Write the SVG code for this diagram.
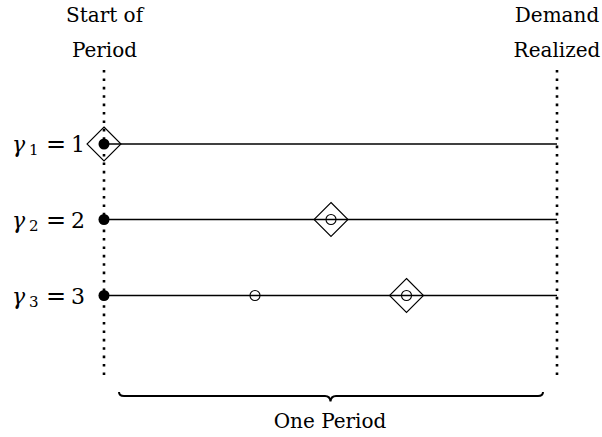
<svg xmlns="http://www.w3.org/2000/svg" width="602" height="437" viewBox="0 0 602 437">
<style>
.lbl{font-family:"DejaVu Serif",serif;font-size:20px;fill:#000;text-anchor:middle}
.math{font-family:"DejaVu Serif",serif;font-size:22px;fill:#000}
.sub{font-size:15px}
.eq{font-size:24px}
.dots{stroke:#000;stroke-width:2.6;stroke-dasharray:2.6 5.8;fill:none}
.tl{stroke:#000;stroke-width:1.6;fill:none}
.dia{stroke:#000;stroke-width:1.1;fill:none}
.oc{stroke:#000;stroke-width:1.1;fill:none}
.fd{fill:#000}
</style>
<rect width="602" height="437" fill="#fff"/>
<g id="labels">
<text class="lbl" x="104.5" y="21.5">Start of</text>
<text class="lbl" x="104.5" y="57">Period</text>
<text class="lbl" x="557" y="21.5">Demand</text>
<text class="lbl" x="557" y="57">Realized</text>
</g>
<g id="connectors">
<line class="dots" x1="104" y1="70" x2="104" y2="375"/>
<line class="dots" x1="557" y1="70" x2="557" y2="375"/>
<line class="tl" x1="104" y1="144" x2="557" y2="144"/>
<line class="tl" x1="104" y1="219.5" x2="557" y2="219.5"/>
<line class="tl" x1="104" y1="295.5" x2="557" y2="295.5"/>
</g>
<g id="row1">
<text class="math" y="152"><tspan x="12" font-style="italic">γ</tspan><tspan class="sub" x="29" dy="3">1</tspan><tspan class="eq" x="46" dy="-3">=</tspan><tspan x="71">1</tspan></text>
<circle class="fd" cx="104" cy="144" r="5.5"/>
<path class="dia" d="M104 127 L121 144 L104 161 L87 144 Z"/>
</g>
<g id="row2">
<text class="math" y="227.5"><tspan x="12" font-style="italic">γ</tspan><tspan class="sub" x="29" dy="3">2</tspan><tspan class="eq" x="46" dy="-3">=</tspan><tspan x="71">2</tspan></text>
<circle class="fd" cx="104" cy="219.5" r="5.5"/>
<circle class="oc" cx="331" cy="219.5" r="5"/>
<path class="dia" d="M331 202.5 L348 219.5 L331 236.5 L314 219.5 Z"/>
</g>
<g id="row3">
<text class="math" y="303.5"><tspan x="12" font-style="italic">γ</tspan><tspan class="sub" x="29" dy="3">3</tspan><tspan class="eq" x="46" dy="-3">=</tspan><tspan x="71">3</tspan></text>
<circle class="fd" cx="104" cy="295.5" r="5.5"/>
<circle class="oc" cx="255" cy="295.5" r="5"/>
<circle class="oc" cx="406.5" cy="295.5" r="5"/>
<path class="dia" d="M406.5 278.5 L423.5 295.5 L406.5 312.5 L389.5 295.5 Z"/>
</g>
<g id="brace">
<path d="M119 392 Q119 396 124 396 L325 396 Q330 396 330.5 401.5 Q331 396 336 396 L538 396 Q543 396 543 392" stroke="#000" stroke-width="2" fill="none"/>
<text class="lbl" x="330" y="428">One Period</text>
</g>
</svg>
